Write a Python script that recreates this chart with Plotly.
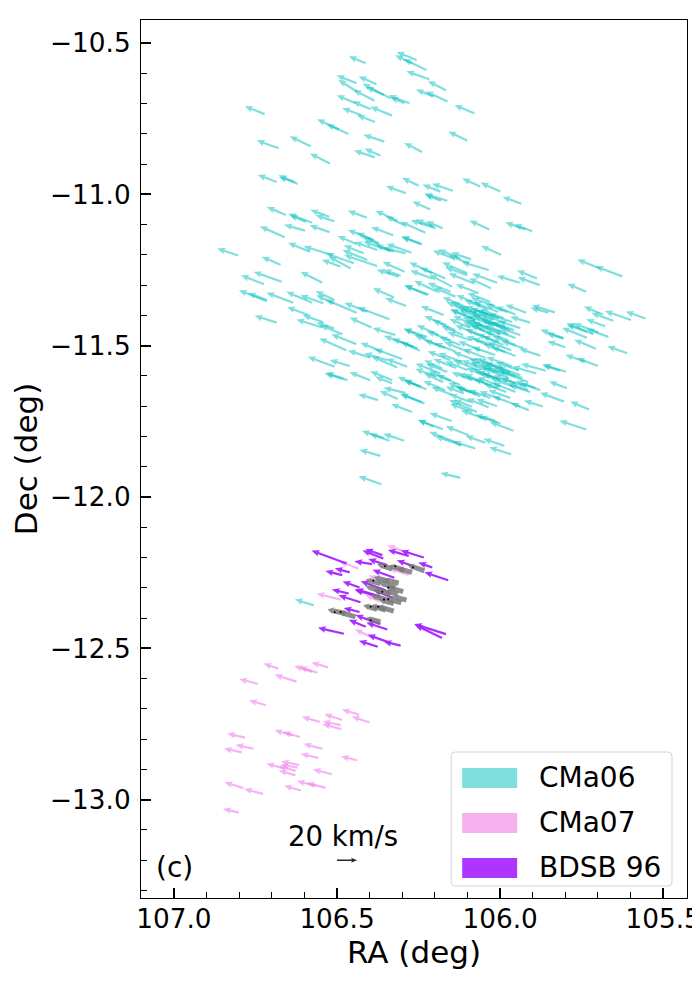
import numpy as np
import plotly.graph_objects as go

# tail positions (deg) and velocity (km/s, +ra = east = left on the plot)
cma06_ra = [106.412,106.256,106.270,106.226,106.217,106.166,106.203,106.161,106.079,106.101,106.239,106.355,106.384,106.367,
 106.440,106.379,106.438,106.336,106.356,106.385,106.278,106.293,106.443,106.397,106.426,106.331,106.384,106.494,106.465,
 106.722,106.679,106.581,106.522,106.685,106.621,106.630,106.249,106.289,106.183,106.145,106.162,106.181,106.214,106.061,105.999,105.935,
 106.229,106.198,106.176,106.203,106.033,105.923,105.902,106.239,105.997,105.693,105.625,105.736,105.940,105.887,105.879,
 106.142,106.122,106.089,106.096,106.101,106.035,106.208,106.168,106.101,106.009,106.208,106.147,106.028,106.081,106.193,106.219,106.152,106.137,106.066,
 105.920,105.953,105.832,105.852,105.908,105.685,105.653,105.599,105.554,105.678,105.734,105.734,105.699,105.668,105.714,105.806,105.806,105.800,105.706,105.610,
 105.877,105.739,105.700,105.798,105.816,105.860,105.889,105.795,105.804,105.869,105.727,105.912,105.940,105.736,105.959,105.987,105.966,106.045,106.096,106.076,
 106.132,106.117,106.175,106.149,106.122,105.999,106.015,106.050,106.071,106.086,106.035,106.009,106.086,
 106.657,106.576,106.596,106.524,106.508,106.409,106.315,106.293,106.598,106.523,106.660,106.328,106.387,106.372,106.367,106.440,106.244,
 106.583,106.514,106.803,106.673,106.448,106.458,106.489,106.407,106.377,106.418,106.377,106.336,106.326,106.272,106.290,106.293,106.311,106.305,
 106.724,106.670,106.545,106.715,106.715,106.634,106.576,106.542,106.508,106.509,106.440,106.407,106.339,106.326,106.288,106.224,
 106.589,106.685,106.545,106.509,106.544,106.484,106.394,106.441,106.472,106.321,106.265,106.224,106.254,106.361,106.300,106.399,106.346,106.315,106.285,
 106.507,106.461,106.468,106.481,106.398,106.331,106.331,106.244,106.244,106.290,106.314,106.374,106.239,106.270,106.203,106.357,106.339,106.294,106.367,106.364,
 106.246,106.226,106.232,106.173,106.188,106.229,106.183,106.193,106.175,106.178,106.112,106.071,
 106.030,106.015,106.042,106.005,106.061,106.024,105.990,106.045,106.073,105.984,106.009,106.036,105.969,105.999,105.953,106.021,106.054,106.085,106.097,105.978,105.963,105.938,105.975,106.005,106.039,106.067,106.091,105.953,105.929,
 106.165,106.137,106.113,106.152,106.122,106.091,106.061,106.097,106.134,106.168,106.192,106.076,106.116,106.152,106.045,106.015,105.984,105.953,106.067,106.100,106.134,106.162,
 106.045,106.015,105.993,105.969,106.030,105.999,105.975,105.953,105.923,106.036,106.009,105.981,105.953,106.061,106.085,105.908,105.914,105.938,105.877,
 106.091,106.061,106.030,105.999,105.969,106.122,106.152,106.146,106.168,106.091,106.571]
cma06_dec = [-10.567,-10.556,-10.567,-10.589,-10.620,-10.656,-10.677,-10.693,-10.732,-10.822,-10.860,-10.826,-10.878,-10.872,
 -10.633,-10.636,-10.661,-10.683,-10.672,-10.691,-10.699,-10.699,-10.699,-10.719,-10.738,-10.740,-10.761,-10.785,-10.801,
 -10.735,-10.848,-10.841,-10.898,-10.959,-10.966,-10.959,-10.972,-10.996,-10.991,-10.988,-11.021,-11.021,-11.050,-10.974,-10.991,-11.031,
 -11.127,-11.112,-11.112,-11.107,-11.116,-11.116,-11.122,-11.165,-11.200,-11.245,-11.271,-11.322,-11.292,-11.278,-11.300,
 -11.212,-11.212,-11.215,-11.228,-11.261,-11.250,-11.261,-11.278,-11.267,-11.292,-11.278,-11.305,-11.310,-11.294,-11.322,-11.331,-11.322,-11.338,-11.327,
 -11.391,-11.397,-11.390,-11.391,-11.424,-11.397,-11.418,-11.415,-11.410,-11.436,-11.454,-11.474,-11.456,-11.471,-11.462,-11.476,-11.476,-11.505,-11.510,-11.525,
 -11.533,-11.553,-11.567,-11.586,-11.583,-11.583,-11.592,-11.641,-11.685,-11.701,-11.711,-11.713,-11.700,-11.777,-11.781,-11.831,-11.859,-11.821,-11.796,-11.840,
 -11.821,-11.829,-11.776,-11.749,-11.937,-11.757,-11.748,-11.740,-11.719,-11.719,-11.704,-11.700,-11.702,
 -11.068,-11.094,-11.091,-11.074,-11.089,-11.077,-11.087,-11.102,-11.120,-11.125,-11.142,-11.135,-11.151,-11.162,-11.168,-11.164,-11.164,
 -11.190,-11.201,-11.202,-11.233,-11.228,-11.245,-11.239,-11.217,-11.237,-11.195,-11.184,-11.186,-11.190,-11.193,-11.195,-11.256,-11.272,-11.269,
 -11.297,-11.289,-11.292,-11.353,-11.349,-11.358,-11.358,-11.360,-11.349,-11.360,-11.391,-11.388,-11.413,-11.340,-11.369,-11.333,
 -11.399,-11.424,-11.440,-11.443,-11.422,-11.462,-11.440,-11.495,-11.515,-11.465,-11.504,-11.471,-11.509,-11.520,-11.544,-11.539,-11.548,-11.572,-11.570,
 -11.570,-11.567,-11.614,-11.609,-11.614,-11.614,-11.625,-11.636,-11.636,-11.656,-11.676,-11.680,-11.687,-11.719,-11.768,-11.805,-11.814,-11.814,-11.864,-11.958,
 -11.517,-11.644,-11.691,-11.399,-11.465,-11.476,-11.592,-11.603,-11.621,-11.575,-11.658,-11.658,
 -11.356,-11.369,-11.379,-11.389,-11.366,-11.402,-11.409,-11.415,-11.392,-11.439,-11.429,-11.442,-11.449,-11.462,-11.475,-11.465,-11.432,-11.409,-11.376,-11.389,-11.422,-11.465,-11.482,-11.488,-11.498,-11.465,-11.442,-11.498,-11.508,
 -11.432,-11.449,-11.465,-11.482,-11.498,-11.482,-11.515,-11.521,-11.521,-11.508,-11.498,-11.548,-11.554,-11.548,-11.541,-11.531,-11.521,-11.534,-11.581,-11.581,-11.574,-11.587,
 -11.581,-11.587,-11.574,-11.587,-11.607,-11.614,-11.607,-11.624,-11.634,-11.630,-11.640,-11.653,-11.653,-11.620,-11.614,-11.653,-11.620,-11.597,-11.647,
 -11.653,-11.667,-11.673,-11.677,-11.673,-11.630,-11.614,-11.663,-11.647,-11.686,-12.358]
cma06_vra = [17,20,17,23,23,18,18,22,20,19,18,21,21,16,
 20,18,19,28,18,21,21,14,19,18,19,22,18,22,22,
 20,22,21,20,19,19,16,17,20,18,21,23,16,18,18,20,19,
 25,25,17,18,20,20,18,21,20,23,27,19,23,20,22,
 21,22,20,20,25,27,23,25,22,25,22,23,22,25,23,24,23,22,23,
 21,20,23,18,20,19,22,26,20,19,20,25,25,22,27,23,17,18,22,20,
 21,20,21,24,17,25,24,18,24,19,19,18,27,27,24,21,22,20,23,22,
 28,27,25,22,20,21,20,23,28,22,22,21,18,
 19,24,16,19,19,19,22,19,21,20,25,22,26,22,18,19,19,
 22,29,21,19,28,22,19,25,33,20,23,27,18,25,23,22,22,17,
 23,28,22,28,19,27,26,23,19,18,31,23,32,21,21,23,
 21,22,26,18,20,22,22,25,27,23,30,23,25,22,28,22,23,26,21,
 27,20,23,17,21,22,17,23,17,22,18,20,22,21,16,22,20,21,21,23,
 19,22,24,23,22,22,25,22,19,18,18,22,
 23,24,22,25,24,22,23,26,25,22,24,21,23,25,22,23,20,22,26,22,24,21,24,22,21,23,21,23,22,
 22,23,22,24,21,23,22,24,22,21,23,22,24,23,22,23,22,24,25,22,23,21,
 24,25,24,26,24,23,25,22,24,24,23,22,23,22,21,21,27,23,20,
 22,23,22,21,22,24,22,21,22,21,19]
cma06_vdec = [7,8,8,11,8,9,7,10,8,9,9,7,7,7,
 8,8,12,15,8,11,8,6,8,8,7,9,7,10,10,
 8,8,10,10,7,9,5,8,7,7,7,7,6,8,8,9,7,
 11,8,7,7,9,7,7,8,9,9,10,8,7,8,8,
 8,9,7,8,11,8,11,11,8,9,8,12,10,10,11,9,9,9,9,
 8,8,7,5,6,8,8,9,7,7,7,10,9,8,11,9,5,6,9,7,
 7,7,8,7,6,7,7,7,9,6,8,7,10,9,9,7,7,7,9,7,
 11,9,9,8,5,7,6,8,12,8,9,7,7,
 8,9,7,7,6,7,10,9,6,7,11,8,10,11,8,8,7,
 9,9,7,8,10,12,7,10,11,8,8,9,7,9,6,10,7,6,
 9,10,11,11,7,10,11,8,9,8,13,9,12,9,8,10,
 8,7,8,6,7,9,10,10,12,7,11,8,10,9,10,7,7,11,8,
 10,6,7,6,8,9,7,10,7,5,8,6,8,8,7,7,7,7,6,8,
 9,9,10,9,10,10,10,8,9,8,7,7,
 9,8,9,10,10,8,9,10,11,7,9,8,8,9,8,10,8,9,11,8,8,7,9,8,9,10,9,9,7,
 9,10,9,9,8,8,9,10,9,8,10,8,9,9,9,8,8,9,10,9,9,8,
 10,10,9,9,10,9,10,8,8,11,9,8,9,9,8,7,10,8,7,
 9,9,8,8,8,10,9,8,9,8,6]

# the two densest knots of CMa06, read separately
knots_ra = [106.091,106.076,106.061,106.039,106.021,106.005,105.984,106.030,106.048,106.070,106.015,105.993,105.975,105.957,106.036,105.990,106.018,105.966,105.938,
 106.005,105.987,105.963,105.944,105.981,105.963,105.932,105.999,106.015,105.914,105.953,105.892,106.024]
knots_dec = [-11.389,-11.415,-11.402,-11.396,-11.415,-11.409,-11.425,-11.429,-11.452,-11.435,-11.449,-11.442,-11.462,-11.449,-11.475,-11.498,-11.501,-11.515,-11.442,
 -11.574,-11.594,-11.568,-11.581,-11.620,-11.634,-11.607,-11.634,-11.607,-11.647,-11.601,-11.640,-11.574]
knots_vra = [24,25,23,22,24,23,25,22,21,24,23,22,24,22,23,21,22,23,22,25,24,26,23,24,22,25,23,22,21,24,20,23]
knots_vdec = [10,10,9,8,9,8,9,8,9,10,8,9,9,8,9,9,8,8,7,10,9,9,8,9,8,9,9,9,7,8,7,9]

cma07_ra = [106.680,106.576,106.560,106.527,106.624,106.742,106.718,106.553,106.484,106.433,106.400,106.489,106.487,106.637,106.614,106.782,106.756,106.792,
 106.545,106.557,106.439,106.516,106.662,106.617,106.621,106.627,106.627,106.787,106.727,106.611,106.565,106.535,106.801,
 106.275,106.435,106.489,106.387,106.336,106.367,106.280]
cma07_dec = [-12.567,-12.578,-12.581,-12.563,-12.610,-12.618,-12.688,-12.743,-12.737,-12.719,-12.745,-12.754,-12.767,-12.787,-12.793,-12.795,-12.832,-12.844,
 -12.832,-12.862,-12.870,-12.916,-12.897,-12.886,-12.894,-12.905,-12.920,-12.962,-12.981,-12.970,-12.955,-12.961,-13.043,
 -12.187,-12.236,-12.339,-12.467,-12.286,-12.346,-12.258]
cma07_vra = [15,18,18,17,22,19,17,18,18,17,18,18,19,18,17,18,18,18,19,18,16,19,18,18,17,17,17,19,19,17,19,19,16,23,19,24,19,22,15,20]
cma07_vdec = [5,6,6,5,7,5,5,5,6,5,6,4,5,5,5,4,4,4,5,4,4,5,5,4,3,5,5,6,5,5,5,5,4,8,7,6,9,8,7,7]

bdsb96_ra = [106.471,106.484,106.461,106.431,106.464,106.428,106.367,106.382,106.358,106.361,106.392,106.346,106.280,106.234,106.265,106.208,106.159,106.324,
 106.431,106.412,106.367,106.346,106.479,106.336,106.305,106.375,106.166,106.178,106.351,106.327]
bdsb96_dec = [-12.220,-12.258,-12.249,-12.299,-12.319,-12.348,-12.330,-12.324,-12.203,-12.192,-12.222,-12.225,-12.195,-12.200,-12.229,-12.233,-12.275,-12.267,
 -12.380,-12.429,-12.420,-12.438,-12.452,-12.482,-12.491,-12.495,-12.453,-12.466,-12.308,-12.334]
bdsb96_vra = [35,17,15,17,17,22,26,20,21,17,18,19,21,23,17,14,24,22,16,17,25,21,26,23,17,19,32,27,25,20]
bdsb96_vdec = [13,4,4,6,4,7,7,6,8,6,3,6,6,7,6,5,8,8,4,7,9,7,6,8,4,6,10,13,9,8]

core_ra = [106.331,106.295,106.270,106.232,106.367,106.321,106.297,106.336,106.367,106.314,106.303,106.326,106.377,106.326,106.351,106.474,106.443,106.367,106.342,106.311,106.351,106.287]
core_dec = [-12.238,-12.242,-12.249,-12.244,-12.286,-12.299,-12.313,-12.321,-12.311,-12.322,-12.350,-12.352,-12.371,-12.377,-12.374,-12.385,-12.396,-12.413,-12.278,-12.285,-12.338,-12.341]
core_vra = [15,15,15,17,15,17,17,17,15,14,17,15,14,17,15,18,17,15,15,15,15,14]
core_vdec = [5,5,4,6,4,5,5,5,5,4,5,4,4,5,5,4,5,4,4,4,4,4]

star_ra = [106.353,106.321,106.267,106.389,106.343,106.361,106.343,106.397,106.374,106.507,106.489,106.397,106.356]
star_dec = [-12.229,-12.229,-12.233,-12.277,-12.299,-12.313,-12.338,-12.363,-12.363,-12.381,-12.380,-12.407,-12.339]

key_ra, key_dec, key_vra, key_vdec = 106.5, -13.2, -20, 0

group_names = ["CMa06", "CMa07", "BDSB 96"]
legend_colors = ["#7fdfdf", "#f5b0ee", "#ad35ff"]

# image pixels of the axes box; the page body adds an 8 px margin
PAGE = 8
W, H = 700 - PAGE, 1000 - 2 * PAGE
L, R, T, B = 140.5, 687, 20, 898
x_range = [107.101, 105.427]
y_range = [-10.424, -13.325]
# pixels per degree, so arrows keep their screen shape like a quiver plot
sx = (R - L) / (x_range[0] - x_range[1])
sy = (B - T) / (y_range[0] - y_range[1])


def px(x):
    return (x - L) / (R - L)


def py(y):
    return (B - y) / (B - T)


def arrow(ra, dec, vra, vdec, w=2.2, hl=8.0, hal=7.0, hw=6.6):
    # polygon of a quiver style arrow, 1 km/s = 1 pixel
    n = np.hypot(vra, vdec)
    ux, uy = -vra / n, vdec / n  # screen direction, y up
    nx, ny = -uy, ux
    pts = [(0, w / 2), (n - hal, w / 2), (n - hl, hw / 2), (n, 0),
           (n - hl, -hw / 2), (n - hal, -w / 2), (0, -w / 2), (0, w / 2)]
    xs, ys = [], []
    for a, b in pts:
        xs.append(ra - (a * ux + b * nx) / sx)
        ys.append(dec + (a * uy + b * ny) / sy)
    return xs, ys


fig = go.Figure()


def add_arrows(ras, decs, vras, vdecs, color, **kw):
    for ra, dec, vra, vdec in zip(ras, decs, vras, vdecs):
        xs, ys = arrow(ra, dec, vra, vdec, **kw)
        fig.add_trace(go.Scatter(x=xs, y=ys, mode="none", fill="toself", fillcolor=color,
                                 hoverinfo="skip", showlegend=False))


add_arrows(cma06_ra, cma06_dec, cma06_vra, cma06_vdec, "rgba(0,191,191,0.5)")
add_arrows(knots_ra, knots_dec, knots_vra, knots_vdec, "rgba(0,191,191,0.5)")
add_arrows(cma07_ra, cma07_dec, cma07_vra, cma07_vdec, "rgba(238,130,238,0.6)")
add_arrows(bdsb96_ra, bdsb96_dec, bdsb96_vra, bdsb96_vdec, "rgba(165,35,255,0.95)")
add_arrows(core_ra, core_dec, core_vra, core_vdec, "rgba(122,122,122,0.85)", w=5, hl=7, hal=5, hw=8)
add_arrows([key_ra], [key_dec], [key_vra], [key_vdec], "rgba(0,0,0,0.85)", w=1.5, hl=6, hal=5, hw=5)
fig.add_trace(go.Scatter(x=star_ra, y=star_dec, mode="markers", hoverinfo="skip", showlegend=False,
                         marker=dict(color="black", size=2)))

# legend box drawn by hand, plotly swatches can't get this big
shapes = [dict(type="path", xref="paper", yref="paper", line=dict(color="#d5d5d5", width=1), fillcolor="white",
               path=f"M{px(455)},{py(752)} L{px(668)},{py(752)} Q{px(672)},{py(752)} {px(672)},{py(756)} "
                    f"L{px(672)},{py(882)} Q{px(672)},{py(886)} {px(668)},{py(886)} "
                    f"L{px(455)},{py(886)} Q{px(451)},{py(886)} {px(451)},{py(882)} "
                    f"L{px(451)},{py(756)} Q{px(451)},{py(752)} {px(455)},{py(752)} Z")]
annotations = []
for i, (name, col) in enumerate(zip(group_names, legend_colors)):
    y0 = 768 + i * 45
    shapes.append(dict(type="rect", xref="paper", yref="paper", x0=px(462), x1=px(517), y0=py(y0), y1=py(y0 + 20),
                       fillcolor=col, line=dict(width=0)))
    annotations.append(dict(text=name, xref="paper", yref="paper", x=px(537), y=py(y0 + 9), xanchor="left",
                            yanchor="middle", showarrow=False, font=dict(size=28)))
annotations.append(dict(text="20 km/s", xref="paper", yref="paper", x=px(343), y=py(836), xanchor="center",
                        yanchor="middle", showarrow=False, font=dict(size=27.5)))
annotations.append(dict(text="(c)", xref="paper", yref="paper", x=px(154), y=py(867), xanchor="left",
                        yanchor="middle", showarrow=False, font=dict(size=28)))

axis_style = dict(showgrid=False, zeroline=False, showline=True, mirror=True, linecolor="black", linewidth=1.2,
                  ticks="inside", ticklen=10, tickwidth=1.5, tickcolor="black", tickformat=".1f", dtick=0.5,
                  automargin=False, ticklabeloverflow="allow",
                  tickfont=dict(size=26.3), minor=dict(ticks="inside", ticklen=5.5, tickwidth=1.2, tickcolor="black", dtick=0.1))

fig.update_layout(
    width=W, height=H, showlegend=False,
    margin=dict(l=L - PAGE, r=W + PAGE - R, t=T - PAGE, b=H + PAGE - B, pad=0, autoexpand=False),
    paper_bgcolor="white", plot_bgcolor="white",
    font=dict(family="DejaVu Sans", color="black"),
    shapes=shapes, annotations=annotations,
    xaxis=dict(range=x_range, ticklabelstandoff=-3, title=dict(text="RA (deg)", font=dict(size=31), standoff=5), **axis_style),
    yaxis=dict(range=y_range[::-1], ticklabelstandoff=4, title=dict(text="Dec (deg)", font=dict(size=31), standoff=13), **axis_style),
)

fig.write_html("out.html")
